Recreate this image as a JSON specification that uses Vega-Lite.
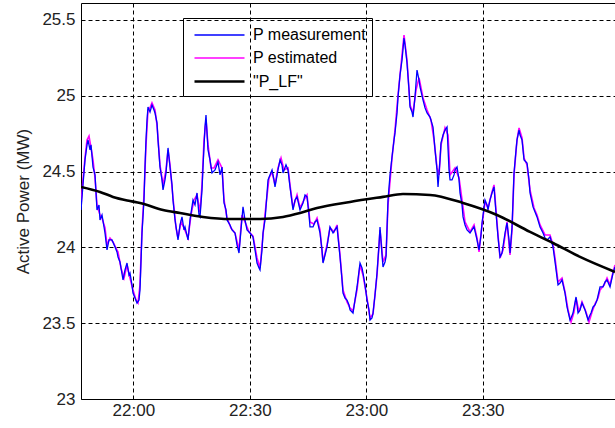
{
  "$schema": "https://vega.github.io/schema/vega-lite/v6.json",
  "width": 535,
  "height": 396,
  "autosize": {"type": "none"},
  "padding": {"left": 81, "top": 3, "right": 0, "bottom": 29},
  "background": "white",
  "config": {"view": {"stroke": "black", "strokeWidth": 1}, "font": "Liberation Sans"},
  "data": {"values": [
{"minute":1306.53,"series":"P estimated","mw":24.280},{"minute":1307.04,"series":"P estimated","mw":24.445},{"minute":1307.56,"series":"P estimated","mw":24.590},{"minute":1308.08,"series":"P estimated","mw":24.709},{"minute":1308.59,"series":"P estimated","mw":24.735},{"minute":1309.11,"series":"P estimated","mw":24.656},{"minute":1309.62,"series":"P estimated","mw":24.577},{"minute":1310.14,"series":"P estimated","mw":24.458},{"minute":1310.65,"series":"P estimated","mw":24.280},{"minute":1311.42,"series":"P estimated","mw":24.214},{"minute":1311.94,"series":"P estimated","mw":24.194},{"minute":1312.71,"series":"P estimated","mw":24.128},{"minute":1313.23,"series":"P estimated","mw":24.016},{"minute":1314.00,"series":"P estimated","mw":24.062},{"minute":1314.77,"series":"P estimated","mw":24.036},{"minute":1315.54,"series":"P estimated","mw":23.996},{"minute":1316.06,"series":"P estimated","mw":23.970},{"minute":1316.83,"series":"P estimated","mw":23.864},{"minute":1317.60,"series":"P estimated","mw":23.798},{"minute":1318.38,"series":"P estimated","mw":23.884},{"minute":1319.15,"series":"P estimated","mw":23.798},{"minute":1319.92,"series":"P estimated","mw":23.719},{"minute":1320.69,"series":"P estimated","mw":23.653},{"minute":1321.21,"series":"P estimated","mw":23.633},{"minute":1321.72,"series":"P estimated","mw":23.752},{"minute":1322.24,"series":"P estimated","mw":24.115},{"minute":1322.75,"series":"P estimated","mw":24.346},{"minute":1323.27,"series":"P estimated","mw":24.676},{"minute":1323.78,"series":"P estimated","mw":24.906},{"minute":1324.30,"series":"P estimated","mw":24.920},{"minute":1324.81,"series":"P estimated","mw":24.953},{"minute":1325.59,"series":"P estimated","mw":24.906},{"minute":1326.10,"series":"P estimated","mw":24.808},{"minute":1326.87,"series":"P estimated","mw":24.544},{"minute":1327.65,"series":"P estimated","mw":24.412},{"minute":1328.42,"series":"P estimated","mw":24.511},{"minute":1328.94,"series":"P estimated","mw":24.643},{"minute":1329.45,"series":"P estimated","mw":24.544},{"minute":1330.22,"series":"P estimated","mw":24.326},{"minute":1331.00,"series":"P estimated","mw":24.128},{"minute":1331.51,"series":"P estimated","mw":24.062},{"minute":1332.28,"series":"P estimated","mw":24.168},{"minute":1333.06,"series":"P estimated","mw":24.128},{"minute":1334.09,"series":"P estimated","mw":24.062},{"minute":1334.86,"series":"P estimated","mw":24.214},{"minute":1335.63,"series":"P estimated","mw":24.313},{"minute":1336.40,"series":"P estimated","mw":24.346},{"minute":1337.18,"series":"P estimated","mw":24.234},{"minute":1337.69,"series":"P estimated","mw":24.412},{"minute":1338.21,"series":"P estimated","mw":24.709},{"minute":1338.72,"series":"P estimated","mw":24.840},{"minute":1339.24,"series":"P estimated","mw":24.676},{"minute":1340.01,"series":"P estimated","mw":24.524},{"minute":1340.78,"series":"P estimated","mw":24.524},{"minute":1341.81,"series":"P estimated","mw":24.577},{"minute":1342.84,"series":"P estimated","mw":24.524},{"minute":1343.36,"series":"P estimated","mw":24.313},{"minute":1344.13,"series":"P estimated","mw":24.194},{"minute":1345.16,"series":"P estimated","mw":24.128},{"minute":1346.19,"series":"P estimated","mw":24.095},{"minute":1347.22,"series":"P estimated","mw":23.983},{"minute":1347.99,"series":"P estimated","mw":24.214},{"minute":1348.76,"series":"P estimated","mw":24.168},{"minute":1349.79,"series":"P estimated","mw":24.102},{"minute":1350.82,"series":"P estimated","mw":24.075},{"minute":1351.86,"series":"P estimated","mw":23.930},{"minute":1352.63,"series":"P estimated","mw":23.864},{"minute":1353.40,"series":"P estimated","mw":24.082},{"minute":1354.17,"series":"P estimated","mw":24.280},{"minute":1354.95,"series":"P estimated","mw":24.458},{"minute":1355.72,"series":"P estimated","mw":24.497},{"minute":1356.49,"series":"P estimated","mw":24.412},{"minute":1357.26,"series":"P estimated","mw":24.524},{"minute":1358.04,"series":"P estimated","mw":24.590},{"minute":1358.81,"series":"P estimated","mw":24.511},{"minute":1359.84,"series":"P estimated","mw":24.524},{"minute":1360.35,"series":"P estimated","mw":24.412},{"minute":1361.13,"series":"P estimated","mw":24.260},{"minute":1362.16,"series":"P estimated","mw":24.346},{"minute":1362.93,"series":"P estimated","mw":24.260},{"minute":1363.96,"series":"P estimated","mw":24.313},{"minute":1364.73,"series":"P estimated","mw":24.346},{"minute":1365.50,"series":"P estimated","mw":24.168},{"minute":1366.53,"series":"P estimated","mw":24.154},{"minute":1367.31,"series":"P estimated","mw":24.194},{"minute":1368.08,"series":"P estimated","mw":24.115},{"minute":1368.85,"series":"P estimated","mw":23.904},{"minute":1369.88,"series":"P estimated","mw":24.016},{"minute":1370.65,"series":"P estimated","mw":24.128},{"minute":1371.69,"series":"P estimated","mw":24.102},{"minute":1372.46,"series":"P estimated","mw":24.148},{"minute":1373.23,"series":"P estimated","mw":23.950},{"minute":1374.00,"series":"P estimated","mw":23.719},{"minute":1375.03,"series":"P estimated","mw":23.640},{"minute":1375.81,"series":"P estimated","mw":23.600},{"minute":1376.58,"series":"P estimated","mw":23.581},{"minute":1377.61,"series":"P estimated","mw":23.719},{"minute":1378.38,"series":"P estimated","mw":23.884},{"minute":1379.15,"series":"P estimated","mw":23.818},{"minute":1380.18,"series":"P estimated","mw":23.666},{"minute":1380.96,"series":"P estimated","mw":23.534},{"minute":1381.73,"series":"P estimated","mw":23.561},{"minute":1382.76,"series":"P estimated","mw":23.818},{"minute":1383.53,"series":"P estimated","mw":24.115},{"minute":1384.30,"series":"P estimated","mw":23.904},{"minute":1385.08,"series":"P estimated","mw":23.950},{"minute":1385.59,"series":"P estimated","mw":24.280},{"minute":1386.62,"series":"P estimated","mw":24.590},{"minute":1387.39,"series":"P estimated","mw":24.774},{"minute":1388.17,"series":"P estimated","mw":25.005},{"minute":1388.94,"series":"P estimated","mw":25.203},{"minute":1389.71,"series":"P estimated","mw":25.401},{"minute":1390.48,"series":"P estimated","mw":25.236},{"minute":1391.26,"series":"P estimated","mw":24.939},{"minute":1392.03,"series":"P estimated","mw":24.887},{"minute":1392.80,"series":"P estimated","mw":25.038},{"minute":1393.58,"series":"P estimated","mw":25.118},{"minute":1394.61,"series":"P estimated","mw":24.986},{"minute":1395.64,"series":"P estimated","mw":24.906},{"minute":1396.67,"series":"P estimated","mw":24.840},{"minute":1397.44,"series":"P estimated","mw":24.709},{"minute":1398.21,"series":"P estimated","mw":24.524},{"minute":1398.73,"series":"P estimated","mw":24.478},{"minute":1399.24,"series":"P estimated","mw":24.676},{"minute":1400.27,"series":"P estimated","mw":24.788},{"minute":1401.04,"series":"P estimated","mw":24.741},{"minute":1401.56,"series":"P estimated","mw":24.478},{"minute":1402.85,"series":"P estimated","mw":24.524},{"minute":1403.88,"series":"P estimated","mw":24.458},{"minute":1404.65,"series":"P estimated","mw":24.313},{"minute":1405.42,"series":"P estimated","mw":24.168},{"minute":1406.71,"series":"P estimated","mw":24.102},{"minute":1407.74,"series":"P estimated","mw":24.148},{"minute":1408.51,"series":"P estimated","mw":24.062},{"minute":1409.03,"series":"P estimated","mw":23.970},{"minute":1409.80,"series":"P estimated","mw":24.148},{"minute":1410.57,"series":"P estimated","mw":24.300},{"minute":1411.34,"series":"P estimated","mw":24.260},{"minute":1412.37,"series":"P estimated","mw":24.366},{"minute":1412.89,"series":"P estimated","mw":24.412},{"minute":1413.40,"series":"P estimated","mw":24.247},{"minute":1413.92,"series":"P estimated","mw":24.082},{"minute":1414.44,"series":"P estimated","mw":23.930},{"minute":1415.21,"series":"P estimated","mw":23.983},{"minute":1416.24,"series":"P estimated","mw":24.168},{"minute":1417.01,"series":"P estimated","mw":23.950},{"minute":1417.53,"series":"P estimated","mw":24.115},{"minute":1418.04,"series":"P estimated","mw":24.478},{"minute":1418.81,"series":"P estimated","mw":24.709},{"minute":1419.33,"series":"P estimated","mw":24.788},{"minute":1420.10,"series":"P estimated","mw":24.722},{"minute":1420.62,"series":"P estimated","mw":24.590},{"minute":1421.39,"series":"P estimated","mw":24.544},{"minute":1422.16,"series":"P estimated","mw":24.379},{"minute":1423.19,"series":"P estimated","mw":24.260},{"minute":1423.96,"series":"P estimated","mw":24.214},{"minute":1424.74,"series":"P estimated","mw":24.148},{"minute":1426.02,"series":"P estimated","mw":24.082},{"minute":1427.31,"series":"P estimated","mw":24.082},{"minute":1428.08,"series":"P estimated","mw":24.016},{"minute":1428.60,"series":"P estimated","mw":23.930},{"minute":1429.37,"series":"P estimated","mw":23.772},{"minute":1430.40,"series":"P estimated","mw":23.798},{"minute":1431.17,"series":"P estimated","mw":23.706},{"minute":1431.95,"series":"P estimated","mw":23.587},{"minute":1432.72,"series":"P estimated","mw":23.508},{"minute":1433.49,"series":"P estimated","mw":23.574},{"minute":1434.01,"series":"P estimated","mw":23.666},{"minute":1434.78,"series":"P estimated","mw":23.574},{"minute":1435.55,"series":"P estimated","mw":23.640},{"minute":1436.58,"series":"P estimated","mw":23.574},{"minute":1437.35,"series":"P estimated","mw":23.508},{"minute":1438.13,"series":"P estimated","mw":23.574},{"minute":1438.90,"series":"P estimated","mw":23.627},{"minute":1439.67,"series":"P estimated","mw":23.666},{"minute":1440.19,"series":"P estimated","mw":23.719},{"minute":1441.22,"series":"P estimated","mw":23.752},{"minute":1441.99,"series":"P estimated","mw":23.798},{"minute":1442.76,"series":"P estimated","mw":23.752},{"minute":1443.54,"series":"P estimated","mw":23.838},{"minute":1444.05,"series":"P estimated","mw":23.884},
{"minute":1306.53,"series":"P measurement","mw":24.247},{"minute":1307.04,"series":"P measurement","mw":24.412},{"minute":1307.56,"series":"P measurement","mw":24.577},{"minute":1308.08,"series":"P measurement","mw":24.676},{"minute":1308.33,"series":"P measurement","mw":24.709},{"minute":1308.85,"series":"P measurement","mw":24.643},{"minute":1309.11,"series":"P measurement","mw":24.676},{"minute":1309.62,"series":"P measurement","mw":24.530},{"minute":1310.14,"series":"P measurement","mw":24.478},{"minute":1310.65,"series":"P measurement","mw":24.247},{"minute":1311.17,"series":"P measurement","mw":24.280},{"minute":1311.42,"series":"P measurement","mw":24.181},{"minute":1311.94,"series":"P measurement","mw":24.214},{"minute":1312.71,"series":"P measurement","mw":24.095},{"minute":1313.23,"series":"P measurement","mw":23.983},{"minute":1313.74,"series":"P measurement","mw":24.049},{"minute":1314.51,"series":"P measurement","mw":24.049},{"minute":1315.29,"series":"P measurement","mw":24.003},{"minute":1315.80,"series":"P measurement","mw":23.970},{"minute":1316.06,"series":"P measurement","mw":23.937},{"minute":1316.57,"series":"P measurement","mw":23.904},{"minute":1317.35,"series":"P measurement","mw":23.785},{"minute":1317.86,"series":"P measurement","mw":23.851},{"minute":1318.38,"series":"P measurement","mw":23.897},{"minute":1318.89,"series":"P measurement","mw":23.818},{"minute":1319.15,"series":"P measurement","mw":23.831},{"minute":1319.66,"series":"P measurement","mw":23.752},{"minute":1319.92,"series":"P measurement","mw":23.699},{"minute":1320.44,"series":"P measurement","mw":23.666},{"minute":1320.95,"series":"P measurement","mw":23.633},{"minute":1321.47,"series":"P measurement","mw":23.653},{"minute":1321.72,"series":"P measurement","mw":23.719},{"minute":1322.24,"series":"P measurement","mw":24.095},{"minute":1322.75,"series":"P measurement","mw":24.313},{"minute":1323.01,"series":"P measurement","mw":24.530},{"minute":1323.27,"series":"P measurement","mw":24.709},{"minute":1323.53,"series":"P measurement","mw":24.840},{"minute":1323.78,"series":"P measurement","mw":24.926},{"minute":1324.30,"series":"P measurement","mw":24.893},{"minute":1324.81,"series":"P measurement","mw":24.939},{"minute":1325.33,"series":"P measurement","mw":24.906},{"minute":1325.59,"series":"P measurement","mw":24.887},{"minute":1326.10,"series":"P measurement","mw":24.821},{"minute":1326.36,"series":"P measurement","mw":24.709},{"minute":1326.87,"series":"P measurement","mw":24.530},{"minute":1327.39,"series":"P measurement","mw":24.445},{"minute":1327.65,"series":"P measurement","mw":24.379},{"minute":1328.16,"series":"P measurement","mw":24.445},{"minute":1328.42,"series":"P measurement","mw":24.491},{"minute":1328.94,"series":"P measurement","mw":24.656},{"minute":1329.45,"series":"P measurement","mw":24.530},{"minute":1329.97,"series":"P measurement","mw":24.412},{"minute":1330.22,"series":"P measurement","mw":24.313},{"minute":1330.74,"series":"P measurement","mw":24.181},{"minute":1331.51,"series":"P measurement","mw":24.049},{"minute":1332.03,"series":"P measurement","mw":24.148},{"minute":1332.54,"series":"P measurement","mw":24.201},{"minute":1333.06,"series":"P measurement","mw":24.115},{"minute":1333.31,"series":"P measurement","mw":24.135},{"minute":1334.09,"series":"P measurement","mw":24.049},{"minute":1334.60,"series":"P measurement","mw":24.181},{"minute":1335.37,"series":"P measurement","mw":24.313},{"minute":1335.89,"series":"P measurement","mw":24.280},{"minute":1336.40,"series":"P measurement","mw":24.359},{"minute":1336.92,"series":"P measurement","mw":24.214},{"minute":1337.18,"series":"P measurement","mw":24.201},{"minute":1337.69,"series":"P measurement","mw":24.379},{"minute":1337.95,"series":"P measurement","mw":24.530},{"minute":1338.46,"series":"P measurement","mw":24.794},{"minute":1338.72,"series":"P measurement","mw":24.873},{"minute":1339.24,"series":"P measurement","mw":24.643},{"minute":1339.75,"series":"P measurement","mw":24.577},{"minute":1340.27,"series":"P measurement","mw":24.491},{"minute":1341.04,"series":"P measurement","mw":24.511},{"minute":1341.81,"series":"P measurement","mw":24.563},{"minute":1342.33,"series":"P measurement","mw":24.478},{"minute":1342.84,"series":"P measurement","mw":24.530},{"minute":1343.36,"series":"P measurement","mw":24.293},{"minute":1343.87,"series":"P measurement","mw":24.247},{"minute":1344.13,"series":"P measurement","mw":24.181},{"minute":1344.90,"series":"P measurement","mw":24.148},{"minute":1345.42,"series":"P measurement","mw":24.115},{"minute":1346.19,"series":"P measurement","mw":24.095},{"minute":1346.70,"series":"P measurement","mw":24.016},{"minute":1347.22,"series":"P measurement","mw":23.963},{"minute":1347.73,"series":"P measurement","mw":24.115},{"minute":1348.25,"series":"P measurement","mw":24.267},{"minute":1348.76,"series":"P measurement","mw":24.181},{"minute":1349.28,"series":"P measurement","mw":24.115},{"minute":1350.05,"series":"P measurement","mw":24.095},{"minute":1350.82,"series":"P measurement","mw":24.069},{"minute":1351.34,"series":"P measurement","mw":23.983},{"minute":1351.86,"series":"P measurement","mw":23.897},{"minute":1352.37,"series":"P measurement","mw":23.864},{"minute":1352.63,"series":"P measurement","mw":23.851},{"minute":1353.14,"series":"P measurement","mw":23.983},{"minute":1353.40,"series":"P measurement","mw":24.095},{"minute":1353.92,"series":"P measurement","mw":24.181},{"minute":1354.69,"series":"P measurement","mw":24.445},{"minute":1355.20,"series":"P measurement","mw":24.478},{"minute":1355.72,"series":"P measurement","mw":24.511},{"minute":1356.23,"series":"P measurement","mw":24.445},{"minute":1356.49,"series":"P measurement","mw":24.399},{"minute":1357.26,"series":"P measurement","mw":24.511},{"minute":1357.78,"series":"P measurement","mw":24.577},{"minute":1358.29,"series":"P measurement","mw":24.544},{"minute":1358.55,"series":"P measurement","mw":24.491},{"minute":1359.32,"series":"P measurement","mw":24.544},{"minute":1359.84,"series":"P measurement","mw":24.511},{"minute":1360.35,"series":"P measurement","mw":24.399},{"minute":1361.13,"series":"P measurement","mw":24.247},{"minute":1361.64,"series":"P measurement","mw":24.313},{"minute":1362.16,"series":"P measurement","mw":24.333},{"minute":1362.93,"series":"P measurement","mw":24.247},{"minute":1363.70,"series":"P measurement","mw":24.293},{"minute":1364.22,"series":"P measurement","mw":24.346},{"minute":1364.73,"series":"P measurement","mw":24.333},{"minute":1365.25,"series":"P measurement","mw":24.214},{"minute":1365.50,"series":"P measurement","mw":24.135},{"minute":1366.28,"series":"P measurement","mw":24.135},{"minute":1366.79,"series":"P measurement","mw":24.168},{"minute":1367.31,"series":"P measurement","mw":24.181},{"minute":1368.08,"series":"P measurement","mw":24.095},{"minute":1368.59,"series":"P measurement","mw":23.983},{"minute":1368.85,"series":"P measurement","mw":23.897},{"minute":1369.37,"series":"P measurement","mw":23.950},{"minute":1369.88,"series":"P measurement","mw":24.003},{"minute":1370.65,"series":"P measurement","mw":24.135},{"minute":1371.43,"series":"P measurement","mw":24.095},{"minute":1371.94,"series":"P measurement","mw":24.115},{"minute":1372.46,"series":"P measurement","mw":24.135},{"minute":1373.23,"series":"P measurement","mw":23.937},{"minute":1373.75,"series":"P measurement","mw":23.785},{"minute":1374.00,"series":"P measurement","mw":23.699},{"minute":1374.52,"series":"P measurement","mw":23.666},{"minute":1375.03,"series":"P measurement","mw":23.653},{"minute":1375.55,"series":"P measurement","mw":23.620},{"minute":1375.81,"series":"P measurement","mw":23.587},{"minute":1376.58,"series":"P measurement","mw":23.567},{"minute":1377.09,"series":"P measurement","mw":23.653},{"minute":1377.61,"series":"P measurement","mw":23.739},{"minute":1378.38,"series":"P measurement","mw":23.897},{"minute":1378.90,"series":"P measurement","mw":23.864},{"minute":1379.15,"series":"P measurement","mw":23.831},{"minute":1379.67,"series":"P measurement","mw":23.752},{"minute":1380.18,"series":"P measurement","mw":23.653},{"minute":1380.70,"series":"P measurement","mw":23.587},{"minute":1380.96,"series":"P measurement","mw":23.521},{"minute":1381.47,"series":"P measurement","mw":23.534},{"minute":1381.73,"series":"P measurement","mw":23.567},{"minute":1382.24,"series":"P measurement","mw":23.686},{"minute":1382.76,"series":"P measurement","mw":23.831},{"minute":1383.27,"series":"P measurement","mw":24.016},{"minute":1383.53,"series":"P measurement","mw":24.135},{"minute":1384.05,"series":"P measurement","mw":23.950},{"minute":1384.30,"series":"P measurement","mw":23.871},{"minute":1384.82,"series":"P measurement","mw":23.904},{"minute":1385.08,"series":"P measurement","mw":23.937},{"minute":1385.59,"series":"P measurement","mw":24.313},{"minute":1386.11,"series":"P measurement","mw":24.478},{"minute":1386.62,"series":"P measurement","mw":24.596},{"minute":1387.14,"series":"P measurement","mw":24.709},{"minute":1387.39,"series":"P measurement","mw":24.755},{"minute":1387.91,"series":"P measurement","mw":24.887},{"minute":1388.17,"series":"P measurement","mw":24.992},{"minute":1388.68,"series":"P measurement","mw":25.137},{"minute":1389.20,"series":"P measurement","mw":25.236},{"minute":1389.71,"series":"P measurement","mw":25.381},{"minute":1389.97,"series":"P measurement","mw":25.335},{"minute":1390.48,"series":"P measurement","mw":25.216},{"minute":1391.00,"series":"P measurement","mw":25.038},{"minute":1391.26,"series":"P measurement","mw":24.926},{"minute":1391.77,"series":"P measurement","mw":24.893},{"minute":1392.03,"series":"P measurement","mw":24.860},{"minute":1392.54,"series":"P measurement","mw":24.992},{"minute":1393.06,"series":"P measurement","mw":25.170},{"minute":1393.58,"series":"P measurement","mw":25.104},{"minute":1393.83,"series":"P measurement","mw":25.058},{"minute":1394.61,"series":"P measurement","mw":24.972},{"minute":1395.12,"series":"P measurement","mw":24.920},{"minute":1395.64,"series":"P measurement","mw":24.887},{"minute":1396.41,"series":"P measurement","mw":24.860},{"minute":1397.18,"series":"P measurement","mw":24.794},{"minute":1397.70,"series":"P measurement","mw":24.643},{"minute":1398.21,"series":"P measurement","mw":24.511},{"minute":1398.47,"series":"P measurement","mw":24.399},{"minute":1398.98,"series":"P measurement","mw":24.577},{"minute":1399.24,"series":"P measurement","mw":24.689},{"minute":1399.76,"series":"P measurement","mw":24.741},{"minute":1400.27,"series":"P measurement","mw":24.774},{"minute":1400.79,"series":"P measurement","mw":24.794},{"minute":1401.30,"series":"P measurement","mw":24.511},{"minute":1401.56,"series":"P measurement","mw":24.445},{"minute":1402.07,"series":"P measurement","mw":24.445},{"minute":1402.59,"series":"P measurement","mw":24.478},{"minute":1402.85,"series":"P measurement","mw":24.511},{"minute":1403.36,"series":"P measurement","mw":24.530},{"minute":1403.88,"series":"P measurement","mw":24.445},{"minute":1404.13,"series":"P measurement","mw":24.359},{"minute":1404.65,"series":"P measurement","mw":24.280},{"minute":1404.91,"series":"P measurement","mw":24.201},{"minute":1405.42,"series":"P measurement","mw":24.148},{"minute":1405.94,"series":"P measurement","mw":24.115},{"minute":1406.71,"series":"P measurement","mw":24.095},{"minute":1407.22,"series":"P measurement","mw":24.115},{"minute":1407.74,"series":"P measurement","mw":24.135},{"minute":1408.51,"series":"P measurement","mw":24.049},{"minute":1409.03,"series":"P measurement","mw":23.983},{"minute":1409.54,"series":"P measurement","mw":24.082},{"minute":1409.80,"series":"P measurement","mw":24.161},{"minute":1410.57,"series":"P measurement","mw":24.313},{"minute":1411.09,"series":"P measurement","mw":24.280},{"minute":1411.34,"series":"P measurement","mw":24.247},{"minute":1411.86,"series":"P measurement","mw":24.313},{"minute":1412.37,"series":"P measurement","mw":24.359},{"minute":1412.89,"series":"P measurement","mw":24.399},{"minute":1413.40,"series":"P measurement","mw":24.227},{"minute":1413.92,"series":"P measurement","mw":24.069},{"minute":1414.44,"series":"P measurement","mw":23.937},{"minute":1414.95,"series":"P measurement","mw":23.963},{"minute":1415.72,"series":"P measurement","mw":24.095},{"minute":1416.24,"series":"P measurement","mw":24.161},{"minute":1416.75,"series":"P measurement","mw":24.049},{"minute":1417.01,"series":"P measurement","mw":23.963},{"minute":1417.53,"series":"P measurement","mw":24.135},{"minute":1418.04,"series":"P measurement","mw":24.491},{"minute":1418.56,"series":"P measurement","mw":24.643},{"minute":1418.81,"series":"P measurement","mw":24.709},{"minute":1419.33,"series":"P measurement","mw":24.774},{"minute":1419.59,"series":"P measurement","mw":24.741},{"minute":1420.10,"series":"P measurement","mw":24.709},{"minute":1420.62,"series":"P measurement","mw":24.577},{"minute":1421.39,"series":"P measurement","mw":24.557},{"minute":1421.90,"series":"P measurement","mw":24.445},{"minute":1422.16,"series":"P measurement","mw":24.359},{"minute":1422.93,"series":"P measurement","mw":24.267},{"minute":1423.45,"series":"P measurement","mw":24.234},{"minute":1423.96,"series":"P measurement","mw":24.201},{"minute":1424.74,"series":"P measurement","mw":24.135},{"minute":1425.51,"series":"P measurement","mw":24.095},{"minute":1426.02,"series":"P measurement","mw":24.062},{"minute":1426.54,"series":"P measurement","mw":24.049},{"minute":1427.31,"series":"P measurement","mw":24.069},{"minute":1428.08,"series":"P measurement","mw":24.003},{"minute":1428.60,"series":"P measurement","mw":23.904},{"minute":1429.37,"series":"P measurement","mw":23.752},{"minute":1429.89,"series":"P measurement","mw":23.765},{"minute":1430.40,"series":"P measurement","mw":23.785},{"minute":1431.17,"series":"P measurement","mw":23.699},{"minute":1431.69,"series":"P measurement","mw":23.607},{"minute":1432.46,"series":"P measurement","mw":23.521},{"minute":1432.72,"series":"P measurement","mw":23.534},{"minute":1433.23,"series":"P measurement","mw":23.567},{"minute":1434.01,"series":"P measurement","mw":23.673},{"minute":1434.52,"series":"P measurement","mw":23.567},{"minute":1435.04,"series":"P measurement","mw":23.587},{"minute":1435.55,"series":"P measurement","mw":23.633},{"minute":1436.33,"series":"P measurement","mw":23.587},{"minute":1437.10,"series":"P measurement","mw":23.521},{"minute":1437.61,"series":"P measurement","mw":23.554},{"minute":1437.87,"series":"P measurement","mw":23.567},{"minute":1438.39,"series":"P measurement","mw":23.607},{"minute":1438.90,"series":"P measurement","mw":23.620},{"minute":1439.42,"series":"P measurement","mw":23.653},{"minute":1440.19,"series":"P measurement","mw":23.739},{"minute":1440.96,"series":"P measurement","mw":23.739},{"minute":1441.48,"series":"P measurement","mw":23.772},{"minute":1441.99,"series":"P measurement","mw":23.785},{"minute":1442.76,"series":"P measurement","mw":23.739},{"minute":1443.54,"series":"P measurement","mw":23.831},{"minute":1444.05,"series":"P measurement","mw":23.871},
{"minute":1306.53,"series":"\"P_LF\"","mw":24.399},{"minute":1311.42,"series":"\"P_LF\"","mw":24.366},{"minute":1314.77,"series":"\"P_LF\"","mw":24.333},{"minute":1319.15,"series":"\"P_LF\"","mw":24.306},{"minute":1321.72,"series":"\"P_LF\"","mw":24.293},{"minute":1327.65,"series":"\"P_LF\"","mw":24.247},{"minute":1332.03,"series":"\"P_LF\"","mw":24.227},{"minute":1337.95,"series":"\"P_LF\"","mw":24.201},{"minute":1344.90,"series":"\"P_LF\"","mw":24.187},{"minute":1352.63,"series":"\"P_LF\"","mw":24.187},{"minute":1358.55,"series":"\"P_LF\"","mw":24.201},{"minute":1362.93,"series":"\"P_LF\"","mw":24.227},{"minute":1367.31,"series":"\"P_LF\"","mw":24.260},{"minute":1375.81,"series":"\"P_LF\"","mw":24.300},{"minute":1384.30,"series":"\"P_LF\"","mw":24.333},{"minute":1389.45,"series":"\"P_LF\"","mw":24.352},{"minute":1396.41,"series":"\"P_LF\"","mw":24.346},{"minute":1404.91,"series":"\"P_LF\"","mw":24.293},{"minute":1413.66,"series":"\"P_LF\"","mw":24.214},{"minute":1422.16,"series":"\"P_LF\"","mw":24.102},{"minute":1428.08,"series":"\"P_LF\"","mw":24.029},{"minute":1435.04,"series":"\"P_LF\"","mw":23.937},{"minute":1444.05,"series":"\"P_LF\"","mw":23.838}
  ]},
  "encoding": {
    "x": {
      "field": "minute", "type": "quantitative",
      "scale": {"domain": [1306.53, 1444.3], "nice": false, "zero": false},
      "axis": {
        "values": [1320, 1350, 1380, 1410],
        "labelExpr": "floor(datum.value / 60) % 24 + ':' + (datum.value % 60 < 10 ? '0' : '') + (datum.value % 60)",
        "title": null, "grid": true, "gridColor": "black", "gridDash": [4, 3], "gridOpacity": 1, "gridWidth": 1,
        "ticks": false, "domain": false, "labelFontSize": 17, "labelColor": "#222222", "labelPadding": 3, "labelFont": "Liberation Sans"
      }
    },
    "y": {
      "field": "mw", "type": "quantitative",
      "scale": {"domain": [23, 25.612], "nice": false, "zero": false},
      "axis": {
        "values": [23, 23.5, 24, 24.5, 25, 25.5], "format": "~g",
        "title": "Active Power (MW)", "titleFontSize": 17, "titleFontWeight": "normal", "titleColor": "#222222", "titlePadding": 9, "titleFont": "Liberation Sans",
        "grid": true, "gridColor": "black", "gridDash": [4, 3], "gridOpacity": 1, "gridWidth": 1,
        "ticks": false, "domain": false, "labelFontSize": 17, "labelColor": "#222222", "labelPadding": 6, "labelFont": "Liberation Sans"
      }
    },
    "color": {
      "field": "series", "type": "nominal",
      "scale": {"domain": ["P measurement", "P estimated", "\"P_LF\""], "range": ["#0000ff", "#ff00ff", "#000000"]},
      "legend": {
        "orient": "none", "legendX": 102, "legendY": 15, "title": null,
        "symbolType": "M-0.6,0H4.4", "symbolSize": 400, "labelFontSize": 16, "labelColor": "black", "labelFont": "Liberation Sans",
        "strokeColor": "black", "padding": 6, "rowPadding": 4, "labelOffset": 41
      }
    },
    "strokeWidth": {
      "field": "series", "type": "nominal",
      "scale": {"type": "ordinal", "domain": ["P measurement", "P estimated", "\"P_LF\""], "range": [1.3, 1.6, 2.6]},
      "legend": {
        "orient": "none", "legendX": 102, "legendY": 15, "title": null,
        "symbolType": "M-0.6,0H4.4", "symbolSize": 400, "labelFontSize": 16, "labelColor": "black", "labelFont": "Liberation Sans",
        "strokeColor": "black", "padding": 6, "rowPadding": 4, "labelOffset": 41
      }
    }
  },
  "layer": [
    {
      "transform": [{"filter": "datum.series !== '\"P_LF\"'"}],
      "mark": {"type": "line", "interpolate": "linear", "clip": true}
    },
    {
      "transform": [{"filter": "datum.series === '\"P_LF\"'"}],
      "mark": {"type": "line", "interpolate": "monotone", "clip": true}
    }
  ]
}
